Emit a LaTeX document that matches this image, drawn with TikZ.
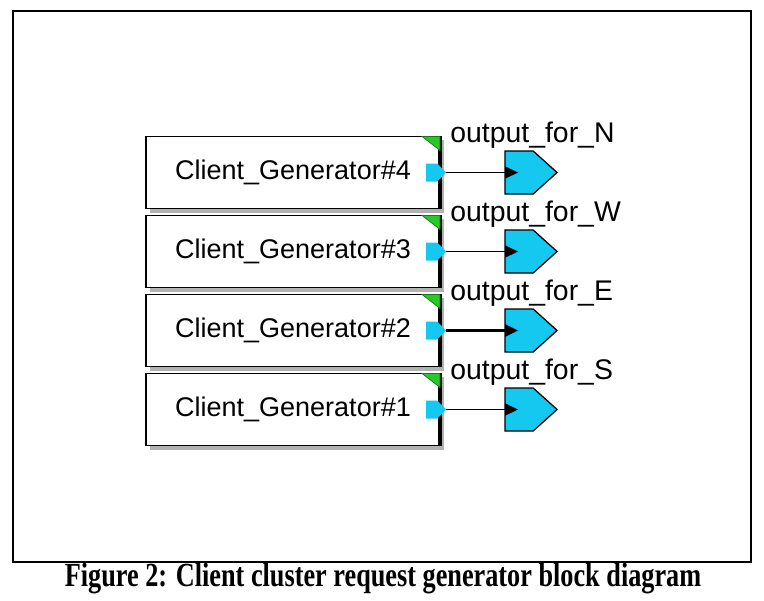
\documentclass[tikz,border=0pt]{standalone}
\usepackage{graphicx}
\usepackage{fontspec}
\newfontfamily\arialfont{Liberation Sans}
\newfontfamily\timesfont{Liberation Serif}
\usetikzlibrary{positioning,shapes.symbols,shadows,arrows.meta}
\definecolor{portcyan}{RGB}{20,200,240}
\definecolor{cornergreen}{RGB}{40,200,40}
\tikzset{
  genbox/.style={draw, line width=1.2pt, fill=white, minimum width=7.35cm, minimum height=1.8cm,
    outer sep=0pt, inner sep=0pt, font=\arialfont\fontsize{19.2}{19.2}\selectfont,
    drop shadow={shadow xshift=0.1cm, shadow yshift=-0.1cm, fill=black!30, opacity=1}},
  port/.style={shape=signal, signal to=east, fill=portcyan, minimum width=0.5cm, minimum height=0.45cm,
    inner sep=0pt, outer sep=0pt},
  outsig/.style={shape=signal, signal to=east, signal pointer angle=84, draw, line width=0.9pt,
    fill=portcyan, minimum width=1.3cm, minimum height=1.075cm, inner sep=0pt, outer sep=0pt},
  outlabel/.style={anchor=base west, inner sep=0pt, font=\arialfont\fontsize{20.2}{20.2}\selectfont}
}
\begin{document}
\begin{tikzpicture}[x=0.025cm, y=-0.025cm]
\useasboundingbox (0,0) rectangle (764,600);
\draw[line width=1.4pt] (13,11) rectangle (751,562);
\foreach \n/\d/\w [count=\i from 0] in {4/N/1pt,3/W/1pt,2/E/1.8pt,1/S/1pt}{
  \node[genbox] (gen\n) at (293,172.5+79*\i) {Client\_Generator\#\n};
  \draw[line width=3pt] (gen\n.north east) -- (gen\n.south east);
  \filldraw[fill=cornergreen, draw=cornergreen!60!black, line width=0.5pt]
    (gen\n.north east) -- ++(-18,0) -- ++(18,14) -- cycle;
  \node[port, anchor=east] (p\n) at ([xshift=0.15cm]gen\n.east) {};
  \node[outsig, right=1.475cm of p\n] (o\n) {};
  \draw[line width=\w, -{Triangle[length=0.325cm, width=0.3cm]}] (p\n.east) -- ([xshift=0.325cm]o\n.west);
  \node[outlabel] (l\n) at ([shift={(10,6)}]gen\n.north east) {output\_for\_\d};
}
\node[font=\timesfont\bfseries\fontsize{24}{24}\selectfont] (cap) at (383,579)
  {\scalebox{0.778}[1]{Figure 2: Client cluster request generator block diagram}};
\end{tikzpicture}
\end{document}
